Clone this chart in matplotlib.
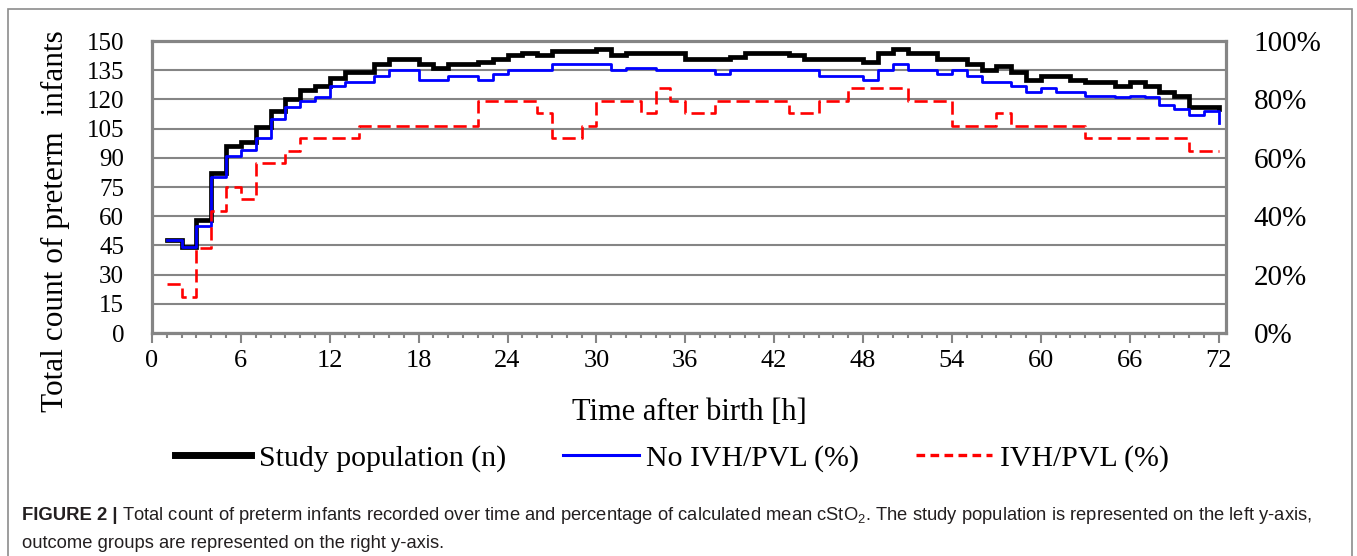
import matplotlib
matplotlib.use("Agg")
import matplotlib.pyplot as plt
from matplotlib.lines import Line2D
from matplotlib.patches import Rectangle

# hours after birth (one value per hour, drawn as steps)
hours = list(range(1, 73))

# study population (left axis, count)
study_n = [48, 44, 58, 82, 96, 98, 106, 114, 120, 125, 127, 131,
           134, 134, 138, 141, 141, 138, 136, 138, 138, 139, 141, 143,
           144, 143, 145, 145, 145, 146, 143, 144, 144, 144, 144, 141,
           141, 141, 142, 144, 144, 144, 143, 141, 141, 141, 141, 139,
           144, 146, 144, 144, 141, 141, 138, 135, 137, 134, 130, 132,
           132, 130, 129, 129, 127, 129, 127, 124, 122, 116, 116, 115]

# outcome groups (right axis, %)
no_ivh_pct = [32.0, 29.3, 36.7, 53.3, 60.7, 62.7, 66.7, 73.3, 77.3, 79.3, 80.7, 84.7,
              86.0, 86.0, 88.0, 90.0, 90.0, 86.7, 86.7, 88.0, 88.0, 86.7, 88.7, 90.0,
              90.0, 90.0, 92.0, 92.0, 92.0, 92.0, 90.0, 90.7, 90.7, 90.0, 90.0, 90.0,
              90.0, 88.7, 90.0, 90.0, 90.0, 90.0, 90.0, 90.0, 88.0, 88.0, 88.0, 86.7,
              90.0, 92.0, 90.0, 90.0, 88.7, 90.0, 88.0, 86.0, 86.0, 84.7, 82.7, 84.0,
              82.7, 82.7, 81.3, 81.3, 80.7, 81.3, 80.7, 78.0, 76.7, 74.7, 76.0, 72.0]

ivh_pct = [16.7, 12.5, 29.2, 41.7, 50.0, 45.8, 58.3, 58.3, 62.5, 66.7, 66.7, 66.7,
           66.7, 71.0, 71.0, 71.0, 71.0, 71.0, 71.0, 71.0, 71.0, 79.5, 79.5, 79.5,
           79.5, 75.5, 66.7, 66.7, 71.0, 79.5, 79.5, 79.5, 75.5, 83.8, 79.5, 75.5,
           75.5, 79.5, 79.5, 79.5, 79.5, 79.5, 75.5, 75.5, 79.5, 79.5, 83.8, 83.8,
           83.8, 83.8, 79.5, 79.5, 79.5, 71.0, 71.0, 71.0, 75.5, 71.0, 71.0, 71.0,
           71.0, 71.0, 66.7, 66.7, 66.7, 66.7, 66.7, 66.7, 66.7, 62.4, 62.4, 62.4]

x_major = list(range(0, 73, 6))
x_minor = list(range(0, 73))
left_ticks = list(range(0, 151, 15))
right_ticks = list(range(0, 101, 20))
right_labels = [f"{v}%" for v in right_ticks]

SERIF = "Liberation Serif"
GREY = "#858585"

W, H = 1357, 556
fig = plt.figure(figsize=(W / 100, H / 100), dpi=100)

# axes box in pixels: left 152, right 1226, top 41, bottom 333
ax = fig.add_axes([152 / W, 1 - 333 / H, (1226 - 152) / W, (333 - 41) / H])
ax.set_xlim(0, 72.5)
ax.set_ylim(0, 150)

ax.set_yticks(left_ticks)
ax.set_yticklabels([str(v) for v in left_ticks], fontfamily=SERIF, fontsize=18)
ax.tick_params(axis="y", length=0, pad=20)
ax.yaxis.grid(True, color=GREY, linewidth=1.5)
ax.set_axisbelow(True)

ax.set_xticks(x_major)
ax.set_xticks(x_minor, minor=True)
ax.set_xticklabels([str(v) for v in x_major], fontfamily=SERIF, fontsize=19)
ax.tick_params(axis="x", which="major", length=7, width=1.5, color=GREY, pad=5)
ax.tick_params(axis="x", which="minor", length=3.5, width=1.5, color=GREY)

for sp in ax.spines.values():
    sp.set_color(GREY)
    sp.set_linewidth(2.3)

ax.step(hours, study_n, where="post", color="black", linewidth=3.4,
        solid_joinstyle="miter", zorder=3)

ax2 = ax.twinx()
ax2.set_ylim(0, 100)
ax2.set_yticks(right_ticks)
ax2.set_yticklabels(right_labels, fontfamily=SERIF, fontsize=21)
ax2.tick_params(axis="y", length=0, pad=20)
for sp in ax2.spines.values():
    sp.set_visible(False)

ax2.step(hours, no_ivh_pct, where="post", color="#0000FF", linewidth=2.0, zorder=4)
ax2.step(hours, ivh_pct, where="post", color="#FF0000", linewidth=1.9,
         linestyle=(0, (5, 2.2)), zorder=5)

ax.set_xlabel("Time after birth [h]", fontfamily=SERIF, fontsize=22, labelpad=19)
fig.text(55 / W, 1 - 221 / H, "Total count of preterm  infants", rotation=90,
         ha="center", va="center", fontfamily=SERIF, fontsize=22.5)

handles = [
    Line2D([], [], color="black", linewidth=5.0),
    Line2D([], [], color="#0000FF", linewidth=2.2),
    Line2D([], [], color="#FF0000", linewidth=2.4, linestyle=(0, (2.6, 1.6))),
]
labels = ["Study population (n)", "No IVH/PVL (%)", "IVH/PVL (%)"]
fig.legend(handles, labels, loc="center", bbox_to_anchor=(672 / W, 1 - 458 / H),
           ncol=3, frameon=False, prop={"family": SERIF, "size": 21.5},
           handlelength=2.55, handletextpad=0.25, columnspacing=1.9)

# caption
cap_y1 = 1 - 516 / H
cap_y2 = 1 - 543 / H
t_bold = fig.text(22 / W, cap_y1, "FIGURE 2 |", fontfamily="Liberation Sans",
                  fontweight="bold", fontsize=13.3, color="#231f20", va="center")
renderer = fig.canvas.get_renderer()
bb = t_bold.get_window_extent(renderer)
fig.text(bb.x1 / W + 4 / W, cap_y1,
         "Total count of preterm infants recorded over time and percentage of calculated "
         "mean cStO$_\\mathregular{2}$. The study population is represented on the left y-axis,",
         fontfamily="Liberation Sans", fontsize=13.2, color="#231f20", va="center")
fig.text(22 / W, cap_y2, "outcome groups are represented on the right y-axis.",
         fontfamily="Liberation Sans", fontsize=13.2, color="#231f20", va="center")

# outer frame around chart and caption
fig.patches.append(Rectangle((8 / W, -0.05), (1352 - 8) / W, 1.05 - 9 / H,
                             transform=fig.transFigure, fill=False,
                             edgecolor="#8c8c8c", linewidth=1.2))

fig.savefig("out.png", dpi=100)
